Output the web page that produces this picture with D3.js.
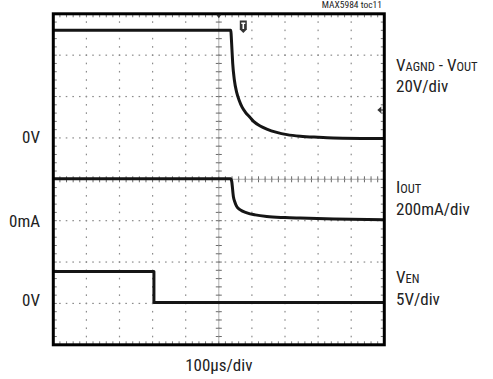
<!DOCTYPE html>
<html>
<head>
<meta charset="utf-8">
<script src="https://cdn.jsdelivr.net/npm/d3@7"></script>
<style>
  html, body { margin: 0; padding: 0; background: #fff; }
  svg { display: block; }
  text { font-family: "Liberation Sans Narrow", "Arial Narrow", "Roboto Condensed", sans-serif; fill: #222; }
</style>
</head>
<body>
<svg id="chart" width="493" height="379"></svg>
<script>
// Time base: 100 µs/div over 10 divisions
const timeDomain = [0, 1000];
const divisionsX = 10;
const divisionsY = 8;

// Channel 1: VAGND - VOUT in volts (20 V/div)
const voutTime  = [0, 536, 539, 542, 547, 554, 562, 570, 580, 594, 605, 625, 645, 675, 706, 746, 800, 846, 1000];
const voutVolts = [52, 52, 45, 36, 28, 22, 18, 15, 12.5, 10, 8, 5.8, 4.3, 2.7, 1.6, 0.8, 0.3, 0, -0.3];

// Channel 2: IOUT in mA (200 mA/div)
const ioutTime = [0, 536, 539, 544, 549, 554, 565, 585, 610, 645, 700, 746, 850, 1000];
const ioutMilliamps = [203, 203, 190, 117, 88, 69, 52, 38, 28, 20, 15, 12.5, 8, 4];

// Channel 3: VEN in volts (5 V/div)
const enTime  = [0, 304, 304, 1000];
const enVolts = [3.85, 3.85, 0.1, 0.1];

// Ground-reference labels on the left and channel labels on the right
const groundLabels = ["0V", "0mA", "0V"];
const scaleLabels  = ["20V/div", "200mA/div", "5V/div"];
const timeLabel    = "100µs/div";
const figureTag    = "MAX5984 toc11";

// Vertical position of each channel's ground (in divisions from centre) and its sensitivity
const channels = [
  { time: voutTime, values: voutVolts, groundDiv: 1,  perDiv: 20,  curve: d3.curveMonotoneX },
  { time: ioutTime, values: ioutMilliamps, groundDiv: -1, perDiv: 200, curve: d3.curveMonotoneX },
  { time: enTime,   values: enVolts,   groundDiv: -3, perDiv: 5,   curve: d3.curveLinear }
];

const svg = d3.select("#chart");
const plotLeft = 53.3, plotRight = 384.3, plotTop = 13.8, plotBottom = 344.8;

const x = d3.scaleLinear().domain(timeDomain).range([plotLeft, plotRight]);
const yDiv = d3.scaleLinear().domain([-divisionsY / 2, divisionsY / 2]).range([plotBottom, plotTop]);
const xDiv = d3.scaleLinear().domain([0, divisionsX]).range([plotLeft, plotRight]);

const grid = svg.append("g");
const minorX = d3.range(0, divisionsX * 5 + 1).map(i => i / 5);
const minorY = d3.range(-divisionsY * 5 / 2, divisionsY * 5 / 2 + 1).map(i => i / 5);

// Dotted graticule lines
for (let i = 1; i < divisionsX; i++) {
  minorY.forEach(d => {
    grid.append("rect").attr("x", xDiv(i) - 0.6).attr("y", yDiv(d) - 0.8)
      .attr("width", 1.2).attr("height", 1.6).attr("fill", "#8c8c8c");
  });
}
for (let j = -divisionsY / 2 + 1; j < divisionsY / 2; j++) {
  minorX.forEach(d => {
    grid.append("rect").attr("x", xDiv(d) - 0.8).attr("y", yDiv(j) - 0.6)
      .attr("width", 1.6).attr("height", 1.2).attr("fill", "#8c8c8c");
  });
}

// Centre axes with minor ticks
const cx = xDiv(divisionsX / 2), cy = yDiv(0);
minorY.forEach(d => {
  grid.append("line").attr("x1", cx - 3).attr("x2", cx + 3)
    .attr("y1", yDiv(d)).attr("y2", yDiv(d)).attr("stroke", "#6a6a6a").attr("stroke-width", 1);
});
minorX.forEach(d => {
  grid.append("line").attr("x1", xDiv(d)).attr("x2", xDiv(d))
    .attr("y1", cy - 3).attr("y2", cy + 3).attr("stroke", "#6a6a6a").attr("stroke-width", 1);
});
grid.append("line").attr("x1", cx).attr("x2", cx).attr("y1", plotTop).attr("y2", plotBottom)
  .attr("stroke", "#9a9a9a").attr("stroke-width", 0.8);
grid.append("line").attr("x1", plotLeft).attr("x2", plotRight).attr("y1", cy).attr("y2", cy)
  .attr("stroke", "#9a9a9a").attr("stroke-width", 0.8);

// Border ticks
minorX.forEach(d => {
  grid.append("line").attr("x1", xDiv(d)).attr("x2", xDiv(d)).attr("y1", plotTop).attr("y2", plotTop + 3.5)
    .attr("stroke", "#777").attr("stroke-width", 1);
  grid.append("line").attr("x1", xDiv(d)).attr("x2", xDiv(d)).attr("y1", plotBottom - 3.5).attr("y2", plotBottom)
    .attr("stroke", "#777").attr("stroke-width", 1);
});
minorY.forEach(d => {
  grid.append("line").attr("x1", plotLeft).attr("x2", plotLeft + 3.5).attr("y1", yDiv(d)).attr("y2", yDiv(d))
    .attr("stroke", "#777").attr("stroke-width", 1);
  grid.append("line").attr("x1", plotRight - 3.5).attr("x2", plotRight).attr("y1", yDiv(d)).attr("y2", yDiv(d))
    .attr("stroke", "#777").attr("stroke-width", 1);
});

// Traces
const traces = svg.append("g");
channels.forEach(ch => {
  const pts = ch.time.map((t, i) => [t, ch.values[i]]);
  const line = d3.line()
    .x(d => x(d[0]))
    .y(d => yDiv(ch.groundDiv + d[1] / ch.perDiv))
    .curve(ch.curve);
  traces.append("path").datum(pts).attr("d", line)
    .attr("fill", "none").attr("stroke", "#151515").attr("stroke-width", 3)
    .attr("stroke-linejoin", "round");
});

// Frame
svg.append("rect").attr("x", plotLeft).attr("y", plotTop)
  .attr("width", plotRight - plotLeft).attr("height", plotBottom - plotTop)
  .attr("fill", "none").attr("stroke", "#000").attr("stroke-width", 3);

// Scope markers: horizontal position, trigger and trigger level
svg.append("path")
  .attr("d", `M${cx - 2.5},${plotTop + 1}L${cx + 2.5},${plotTop + 1}L${cx},${plotTop + 4.5}Z`)
  .attr("fill", "#333");
const tx = x(574), ty = 20.5;
svg.append("path")
  .attr("d", `M${tx - 3.5},${ty}h7v9l-3.5,3.5l-3.5,-3.5Z`)
  .attr("fill", "#333");
svg.append("path")
  .attr("d", `M${tx - 2},${ty + 2}h4v1.5h-1.2v5h-1.6v-5h-1.2Z`)
  .attr("fill", "#fff");
const ay = 110;
svg.append("path")
  .attr("d", `M${plotRight - 7},${ay}L${plotRight - 3},${ay - 3.5}L${plotRight - 3},${ay + 3.5}Z`)
  .attr("fill", "#333");
svg.append("line").attr("x1", plotRight - 3).attr("x2", plotRight - 1.5).attr("y1", ay).attr("y2", ay)
  .attr("stroke", "#333").attr("stroke-width", 1.5);

// Left ground labels
const groundBaselines = [143, 227, 306];
groundLabels.forEach((t, i) => {
  svg.append("text").attr("x", 40).attr("y", groundBaselines[i])
    .attr("text-anchor", "end").attr("font-size", 17).text(t);
});

// Right channel labels
const labelX = 396;
function channelName(y, parts) {
  const t = svg.append("text").attr("x", labelX).attr("y", y).attr("font-size", 17);
  parts.forEach(p => t.append("tspan").attr("font-size", p[1]).text(p[0]));
}
channelName(70.7, [["V", 17], ["AGND", 12.5], [" - V", 17], ["OUT", 12.5]]);
channelName(193, [["I", 17], ["OUT", 12.5]]);
channelName(283, [["V", 17], ["EN", 12.5]]);
const scaleBaselines = [92.3, 214.5, 305];
scaleLabels.forEach((t, i) => {
  svg.append("text").attr("x", labelX).attr("y", scaleBaselines[i]).attr("font-size", 17).text(t);
});

// Time base label and figure tag
svg.append("text").attr("x", cx).attr("y", 370.5).attr("text-anchor", "middle")
  .attr("font-size", 17).text(timeLabel);
svg.append("text").attr("x", 382).attr("y", 8).attr("text-anchor", "end")
  .attr("font-size", 9.5).text(figureTag);
</script>
</body>
</html>
